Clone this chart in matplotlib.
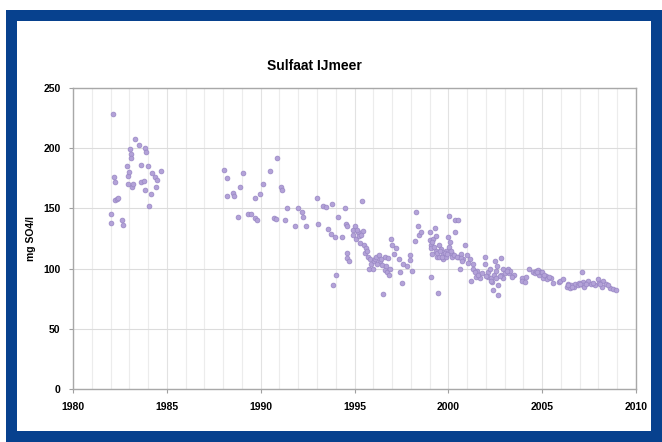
import matplotlib
matplotlib.use("Agg")
import matplotlib.pyplot as plt
from matplotlib.patches import Rectangle
from matplotlib.ticker import MultipleLocator

years_a = [1982.0, 1982.0, 1982.15, 1982.2, 1982.22, 1982.25, 1982.35, 1982.4,
           1982.6, 1982.65, 1982.9, 1982.92, 1982.95, 1983.05, 1983.07, 1983.1,
           1983.12, 1983.3, 1983.5, 1983.6, 1983.65, 1983.8, 1983.82, 1983.85,
           1983.88, 1984.0, 1984.05, 1984.15, 1984.2, 1984.35, 1984.4, 1984.5,
           1984.7, 1983.0, 1983.2]
values_a = [145, 138, 228, 176, 172, 157, 158, 159,
            140, 136, 185, 177, 170, 199, 195, 192,
            168, 208, 203, 186, 172, 173, 165, 200,
            197, 185, 152, 162, 179, 176, 168, 174,
            181, 180, 170]

years_b = [1988.05, 1988.2, 1988.22, 1988.55, 1988.6, 1988.8, 1988.9, 1989.05,
           1989.3, 1989.5, 1989.7, 1989.72, 1989.8, 1989.95, 1990.1, 1990.5,
           1990.7, 1990.8, 1990.85, 1991.1, 1991.15, 1991.3, 1991.4, 1991.85,
           1992.0, 1992.2, 1992.25, 1992.4, 1993.0, 1993.05, 1993.3, 1993.5,
           1993.6, 1993.75, 1993.8, 1993.85, 1993.95, 1994.0, 1994.1, 1994.35,
           1994.5, 1994.55, 1994.58, 1994.6, 1994.62, 1994.7, 1994.9, 1994.92]
values_b = [182, 175, 160, 163, 160, 143, 168, 179,
            145, 145, 159, 142, 140, 162, 170, 181,
            142, 141, 192, 168, 165, 140, 150, 135,
            150, 147, 143, 135, 159, 137, 152, 151,
            133, 129, 154, 86, 126, 95, 143, 126,
            150, 137, 135, 113, 109, 106, 132, 128]

years_c = [1995.05, 1995.1, 1995.2, 1995.25, 1995.3, 1995.4, 1995.45, 1995.5,
           1995.55, 1995.6, 1995.7, 1995.75, 1995.8, 1995.9, 1996.0, 1996.05,
           1996.1, 1996.15, 1996.3, 1996.35, 1996.45, 1996.5, 1996.6, 1996.62,
           1996.7, 1996.72, 1996.8, 1996.85, 1996.95, 1997.0, 1997.1, 1997.2,
           1997.35, 1997.4, 1997.55, 1997.6, 1997.8, 1997.95, 1997.97, 1998.05,
           1998.2, 1998.3, 1998.4, 1998.42, 1998.55, 1999.0, 1999.02, 1999.05,
           1999.07, 1999.1, 1999.12, 1999.2, 1999.3, 1999.32, 1999.35, 1999.37,
           1999.45, 1999.5, 1999.52, 1999.6, 1999.7, 1999.72, 1999.85, 1999.87,
           2000.0, 2000.02, 2000.05, 2000.1, 2000.2, 2000.22, 2000.35, 2000.37,
           2000.5, 2000.52, 2000.6, 2000.7, 2000.8, 2000.9, 2001.0, 2001.15,
           2001.2, 2001.3, 2001.32, 2001.5, 2001.52, 2001.7, 2001.95, 2001.97,
           2002.1, 2002.12, 2002.2, 2002.3, 2002.32, 2002.4, 2002.45, 2002.5,
           2002.52, 2002.6, 2002.65, 2002.67, 2002.8, 2002.82, 2002.9, 2002.92,
           2003.0, 2003.2, 2003.22, 2003.3, 2003.5,
           1995.15, 1995.35, 1995.65, 1996.2, 1996.4, 1996.9, 1999.15, 1999.25,
           1999.4, 1999.55, 1999.65, 1999.8, 1999.95, 2000.15, 2000.3, 2000.45,
           2000.65, 2000.75, 2001.05, 2001.4, 2001.6, 2001.8, 2002.0, 2002.25,
           2002.55, 2002.75, 2003.1, 2003.4]
values_c = [135, 125, 130, 127, 121, 156, 131, 120,
            113, 117, 110, 100, 108, 104, 100, 106,
            108, 110, 111, 106, 103, 79, 110, 99,
            102, 97, 109, 95, 125, 120, 112, 117,
            108, 97, 88, 104, 102, 111, 107, 98,
            123, 147, 135, 128, 130, 130, 124, 120,
            93, 117, 112, 125, 134, 127, 115, 110,
            80, 120, 110, 116, 112, 108, 115, 110,
            126, 118, 144, 122, 112, 110, 130, 140,
            140, 110, 100, 112, 108, 120, 111, 108,
            90, 104, 100, 93, 98, 92, 110, 104,
            97, 93, 100, 92, 89, 82, 95, 106,
            98, 102, 78, 86, 109, 95, 100, 92,
            96, 100, 96, 98, 95,
            132, 128, 115, 104, 108, 100, 122, 118,
            113, 115, 110, 113, 112, 115, 111, 110,
            109, 106, 105, 97, 95, 96, 94, 90,
            92, 94, 98, 93]

years_d = [2003.9, 2003.95, 2004.1, 2004.15, 2004.3, 2004.5, 2004.6, 2004.65,
           2004.8, 2004.85, 2004.95, 2005.0, 2005.05, 2005.2, 2005.25, 2005.45,
           2005.6, 2005.9, 2005.95, 2006.1, 2006.3, 2006.35, 2006.5, 2006.55,
           2006.7, 2006.75, 2006.9, 2006.95, 2007.1, 2007.15, 2007.2, 2007.25,
           2007.4, 2007.45, 2007.6, 2007.8, 2008.0, 2008.05, 2008.2, 2008.25,
           2008.4, 2008.6, 2008.8, 2008.95,
           2004.7, 2005.1, 2005.35, 2006.4, 2006.6, 2007.0, 2007.35, 2007.7,
           2008.1, 2008.5]
values_d = [92, 90, 89, 93, 100, 97, 96, 98,
            99, 95, 97, 97, 92, 94, 91, 92,
            88, 89, 90, 91, 85, 87, 84, 86,
            85, 87, 86, 88, 97, 89, 86, 85,
            88, 90, 87, 86, 91, 88, 85, 90,
            87, 84, 83, 82,
            97, 95, 93, 86, 85, 87, 87, 88,
            87, 86]

years = years_a + years_b + years_c + years_d
values = values_a + values_b + values_c + values_d

fig = plt.figure(figsize=(6.62, 4.42), dpi=100)
fig.patch.set_facecolor("white")

# blue frame around the chart
blue = "#07418e"
for r in [(6, 10, 656, 11), (6, 10, 11, 432), (6, 431, 656, 11), (651, 10, 11, 432)]:
    x, y, w, h = r
    fig.add_artist(Rectangle((x / 662, 1 - (y + h) / 442), w / 662, h / 442,
                             transform=fig.transFigure, facecolor=blue,
                             edgecolor="none"))

ax = fig.add_axes([73 / 662, 1 - 389 / 442, 563 / 662, 301 / 442])
ax.scatter(years, values, s=12, marker="o", color="#b3a2d8",
           edgecolors="#9886c4", linewidths=0.5, zorder=3)

ax.set_xlim(1980, 2010)
ax.set_ylim(0, 250)
ax.xaxis.set_major_locator(MultipleLocator(5))
ax.xaxis.set_minor_locator(MultipleLocator(1))
ax.yaxis.set_major_locator(MultipleLocator(50))
ax.grid(True, which="minor", axis="x", color="#ececec", lw=0.8)
ax.grid(True, which="major", axis="x", color="#e2e2e2", lw=0.8)
ax.grid(True, which="major", axis="y", color="#dcdcdc", lw=0.8)
ax.set_axisbelow(True)
for s in ax.spines.values():
    s.set_color("#a8a8a8")
    s.set_linewidth(1.0)
ax.tick_params(which="major", length=3, color="#a0a0a0", labelsize=7.5, pad=6)
ax.tick_params(which="minor", length=0)
for lbl in ax.get_xticklabels() + ax.get_yticklabels():
    lbl.set_fontweight("bold")
    lbl.set_family("Liberation Sans")

ax.set_ylabel("mg SO4/l", fontsize=7.5, fontweight="bold", family="Liberation Sans", labelpad=5)
fig.text(314 / 662, 1 - 66 / 442, "Sulfaat IJmeer", ha="center", va="center",
         fontsize=10, fontweight="bold", family="Liberation Sans")

fig.savefig("out.png", dpi=100)
